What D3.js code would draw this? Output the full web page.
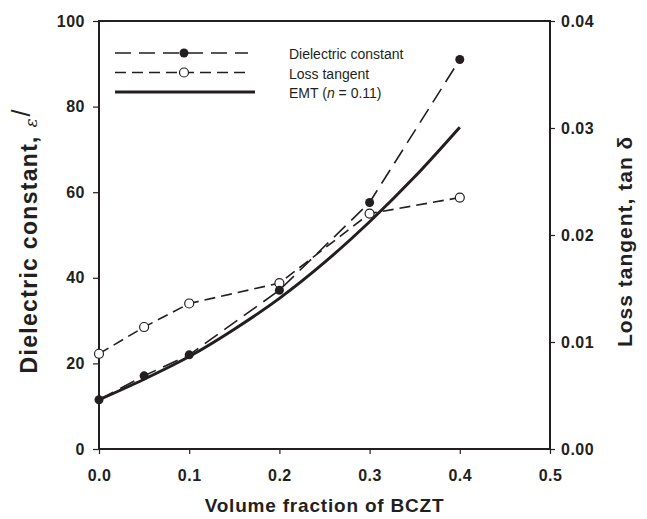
<!DOCTYPE html>
<html>
<head>
<meta charset="utf-8">
<script src="https://cdn.jsdelivr.net/npm/d3@7"></script>
<style>
  body { margin: 0; background: #fff; }
  text { font-family: "Liberation Sans", Arial, sans-serif; }
</style>
</head>
<body>
<div id="chart"></div>
<script>
// data
const fraction = [0, 0.05, 0.1, 0.2, 0.3, 0.4];
const dielectric = [11.5, 17.1, 22, 37.1, 57.6, 91];
const lossTangent = [0.0089, 0.0114, 0.0136, 0.0155, 0.0220, 0.0235];

const emtFraction = [0, 0.05, 0.1, 0.15, 0.2, 0.25, 0.3, 0.35, 0.4];
const emtValues = [11.5, 16.3, 21.6, 28, 35.2, 43.6, 53.1, 63.6, 75.2];

const xTicks = [0, 0.1, 0.2, 0.3, 0.4, 0.5];
const leftTicks = [0, 20, 40, 60, 80, 100];
const rightTicks = [0, 0.01, 0.02, 0.03, 0.04];

const legendLabels = ["Dielectric constant", "Loss tangent", "EMT"];

const width = 647, height = 519;
const margin = {top: 21, right: 97, bottom: 70, left: 99};
const ink = "#231f20";

const svg = d3.select("#chart").append("svg")
  .attr("width", width).attr("height", height);

const x = d3.scaleLinear().domain([0, 0.5]).range([margin.left, width - margin.right]);
const yL = d3.scaleLinear().domain([0, 100]).range([height - margin.bottom, margin.top]);
const yR = d3.scaleLinear().domain([0, 0.04]).range([height - margin.bottom, margin.top]);

// frame
svg.append("rect")
  .attr("x", x(0)).attr("y", yL(100))
  .attr("width", x(0.5) - x(0)).attr("height", yL(0) - yL(100))
  .attr("fill", "none").attr("stroke", ink).attr("stroke-width", 2);

// axes
const styleAxis = g => {
  g.select(".domain").remove();
  g.selectAll(".tick line").attr("stroke", ink).attr("stroke-width", 1.2);
  g.selectAll(".tick text")
    .attr("fill", ink)
    .attr("font-size", 16)
    .attr("font-weight", "bold")
    .attr("letter-spacing", 0.5)
    .attr("font-family", "Liberation Sans, Arial, sans-serif");
};

svg.append("g")
  .attr("transform", `translate(0,${yL(0)})`)
  .call(d3.axisBottom(x).tickValues(xTicks).tickFormat(d3.format(".1f")).tickSize(5).tickPadding(16))
  .call(styleAxis);

svg.append("g")
  .attr("transform", `translate(${x(0)},0)`)
  .call(d3.axisLeft(yL).tickValues(leftTicks).tickSize(6).tickPadding(8))
  .call(styleAxis);

svg.append("g")
  .attr("transform", `translate(${x(0.5)},0)`)
  .call(d3.axisRight(yR).tickValues(rightTicks).tickFormat(d3.format(".2f")).tickSize(5).tickPadding(6))
  .call(styleAxis);

// axis titles
svg.append("text")
  .attr("x", (x(0) + x(0.5)) / 2).attr("y", 512)
  .attr("text-anchor", "middle")
  .attr("font-size", 19).attr("font-weight", "bold").attr("letter-spacing", 0.8).attr("fill", ink)
  .text("Volume fraction of BCZT");

const lt = svg.append("text")
  .attr("transform", `translate(37,${yL(48.5)}) rotate(-90)`)
  .attr("text-anchor", "middle")
  .attr("font-size", 23).attr("font-weight", "bold").attr("fill", ink);
lt.append("tspan").attr("letter-spacing", 1.3).text("Dielectric constant, ");
lt.append("tspan")
  .attr("font-family", "DejaVu Serif, serif").attr("font-style", "italic")
  .attr("font-weight", "normal").attr("font-size", 17).text("ε");
lt.append("tspan")
  .attr("font-weight", "normal").attr("font-size", 25).attr("dy", -7).attr("dx", 2).text("/");

svg.append("text")
  .attr("transform", `translate(632,${yL(48.5)}) rotate(-90)`)
  .attr("text-anchor", "middle")
  .attr("font-size", 21).attr("font-weight", "bold").attr("letter-spacing", 1).attr("fill", ink)
  .text("Loss tangent, tan  δ");

// lines
const epsLine = d3.line().x((d, i) => x(fraction[i])).y(d => yL(d));
const lossLine = d3.line().x((d, i) => x(fraction[i])).y(d => yR(d));
const emtLine = d3.line().curve(d3.curveMonotoneX)
  .x((d, i) => x(emtFraction[i])).y(d => yL(d));

svg.append("path").datum(lossTangent)
  .attr("d", lossLine).attr("fill", "none")
  .attr("stroke", ink).attr("stroke-width", 1.6).attr("stroke-dasharray", "11,6");

svg.append("path").datum(dielectric)
  .attr("d", epsLine).attr("fill", "none")
  .attr("stroke", ink).attr("stroke-width", 1.6).attr("stroke-dasharray", "16,8");

svg.append("path").datum(emtValues)
  .attr("d", emtLine).attr("fill", "none")
  .attr("stroke", ink).attr("stroke-width", 3);

// markers
svg.append("g").selectAll("circle")
  .data(lossTangent).join("circle")
  .attr("cx", (d, i) => x(fraction[i])).attr("cy", d => yR(d))
  .attr("r", 4.5).attr("fill", "#fff").attr("stroke", ink).attr("stroke-width", 1.2);

svg.append("g").selectAll("circle")
  .data(dielectric).join("circle")
  .attr("cx", (d, i) => x(fraction[i])).attr("cy", d => yL(d))
  .attr("r", 4.5).attr("fill", ink);

// legend
const lg = svg.append("g").attr("transform", "translate(115,53)");
const rowGap = 19.5;
lg.append("line").attr("x1", 0).attr("x2", 133).attr("y1", 0).attr("y2", 0)
  .attr("stroke", ink).attr("stroke-width", 1.6).attr("stroke-dasharray", "16,8");
lg.append("circle").attr("cx", 69).attr("cy", 0).attr("r", 4.5).attr("fill", ink);
lg.append("line").attr("x1", 0).attr("x2", 133).attr("y1", rowGap).attr("y2", rowGap)
  .attr("stroke", ink).attr("stroke-width", 1.6).attr("stroke-dasharray", "11,6");
lg.append("circle").attr("cx", 69).attr("cy", rowGap).attr("r", 4.5)
  .attr("fill", "#fff").attr("stroke", ink).attr("stroke-width", 1.2);
lg.append("line").attr("x1", 0).attr("x2", 140).attr("y1", rowGap * 2).attr("y2", rowGap * 2)
  .attr("stroke", ink).attr("stroke-width", 3);

legendLabels.forEach((lab, i) => {
  const t = lg.append("text").attr("x", 174).attr("y", i * rowGap + 6)
    .attr("font-size", 14).attr("fill", ink).text(lab);
  if (lab === "EMT") {
    t.append("tspan").text(" (");
    t.append("tspan").attr("font-style", "italic").text("n");
    t.append("tspan").text(" = 0.11)");
  }
});
</script>
</body>
</html>
